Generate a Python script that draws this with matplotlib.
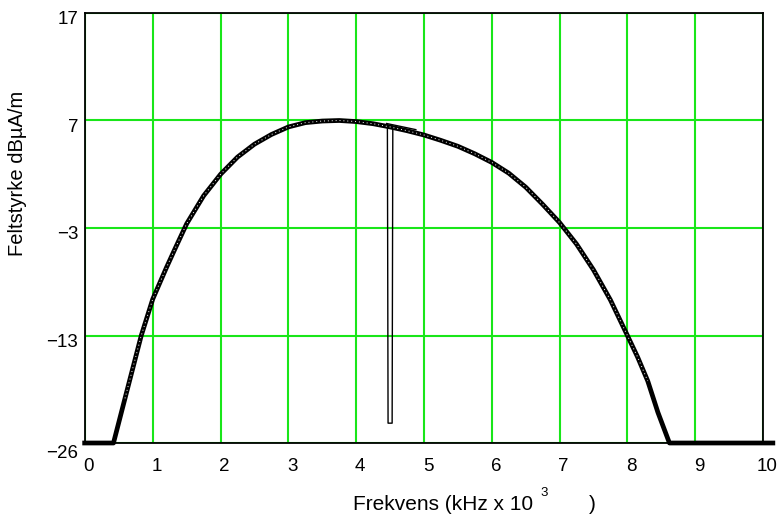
import numpy as np
import matplotlib
matplotlib.use("Agg")
import matplotlib.pyplot as plt
from matplotlib.transforms import ScaledTranslation

plt.rcParams['font.family'] = ['Liberation Sans', 'DejaVu Sans']

# ---- data ----
freq = [-0.04, 0.42, 0.59, 0.83, 1.0, 1.2, 1.33, 1.5, 1.75, 2.0, 2.25, 2.5, 2.75,
        3.0, 3.25, 3.5, 3.75, 4.0, 4.25, 4.5, 4.75, 5.0, 5.25, 5.5, 5.75, 6.0,
        6.25, 6.5, 6.75, 7.0, 7.25, 7.5, 7.75, 8.0, 8.15, 8.3, 8.45, 8.62, 10.18]
level = [-26, -26, -20.6, -13, -9.6, -6.7, -4.9, -2.6, 0.0, 2.0, 3.6, 4.8, 5.7,
         6.4, 6.8, 6.95, 7.0, 6.9, 6.7, 6.4, 6.05, 5.65, 5.15, 4.6, 3.9, 3.1,
         2.1, 0.8, -0.8, -2.5, -4.5, -6.9, -9.7, -13, -15.6, -18.5, -22.3, -26, -26]

trace2_freq = [4.45, 4.88]
trace2_level = [6.72, 6.15]

spike_freq = [4.46, 4.47, 4.53, 4.54]
spike_level = [6.6, -23.6, -23.6, 6.45]

xticks = [0, 1, 2, 3, 4, 5, 6, 7, 8, 9, 10]
yticks = [-26, -13, -3, 7, 17]
ytick_labels = ['\u221226', '\u221213', '\u22123', '7', '17']

# piecewise axis: the -26..-13 span is drawn as long as a 10-unit span
def fwd(y):
    y = np.asarray(y, dtype=float)
    return np.where(y < -13, -13 + (y + 13) * 10.0 / 13.0, y)

def inv(v):
    v = np.asarray(v, dtype=float)
    return np.where(v < -13, -13 + (v + 13) * 13.0 / 10.0, v)

W, H = 782, 516
fig = plt.figure(figsize=(W / 100, H / 100), dpi=100)
ax = fig.add_axes([85 / W, 1 - 443 / H, (763 - 85) / W, (443 - 13) / H])
ax.set_yscale('function', functions=(fwd, inv))
ax.set_xlim(0, 10)
ax.set_ylim(-26, 17)
ax.set_xticks(xticks)
ax.set_yticks(yticks)
ax.set_yticklabels(ytick_labels)
ax.minorticks_off()

green = '#19e619'
ax.grid(True, color=green, linewidth=1.5, zorder=1)
ax.set_axisbelow(True)
for s in ax.spines.values():
    s.set_color('black')
    s.set_linewidth(1.3)
    s.set_zorder(2)

ax.tick_params(axis='both', length=0, labelsize=13.5, colors='black')
ax.tick_params(axis='x', pad=10.5)
ax.tick_params(axis='y', pad=5)

for lab in ax.get_xticklabels():
    lab.set_transform(lab.get_transform() + ScaledTranslation(4 / 100, 0, fig.dpi_scale_trans))
ylabs = ax.get_yticklabels()
for i, lab in enumerate(ylabs):
    dy = -9 if i == 0 else -5
    lab.set_transform(lab.get_transform() + ScaledTranslation(0, dy / 100, fig.dpi_scale_trans))

# curve
ax.plot(freq, level, color='black', linewidth=3.4, solid_capstyle='butt',
        solid_joinstyle='round', clip_on=False, zorder=5)
ax.plot(freq[2:-3], level[2:-3], color='white', linewidth=0.7,
        linestyle=(0, (1, 3)), zorder=6)
ax.plot(trace2_freq, trace2_level, color='black', linewidth=1.0, zorder=5)
ax.plot(spike_freq, spike_level, color='black', linewidth=1.0, zorder=5)

# axis titles
fig.text(353 / W, 1 - 510 / H, 'Frekvens (kHz x 10', fontsize=15,
         ha='left', va='baseline')
fig.text(540 / W, 1 - 496 / H, '3', fontsize=9.5, ha='left', va='baseline')
fig.text(589 / W, 1 - 510 / H, ')', fontsize=15, ha='left', va='baseline')
fig.text(18 / W, 1 - 256 / H, 'Feltstyrke dB\u00b5A/m', fontsize=14.5,
         rotation=90, ha='center', va='bottom')

fig.savefig('out.png', dpi=100)
